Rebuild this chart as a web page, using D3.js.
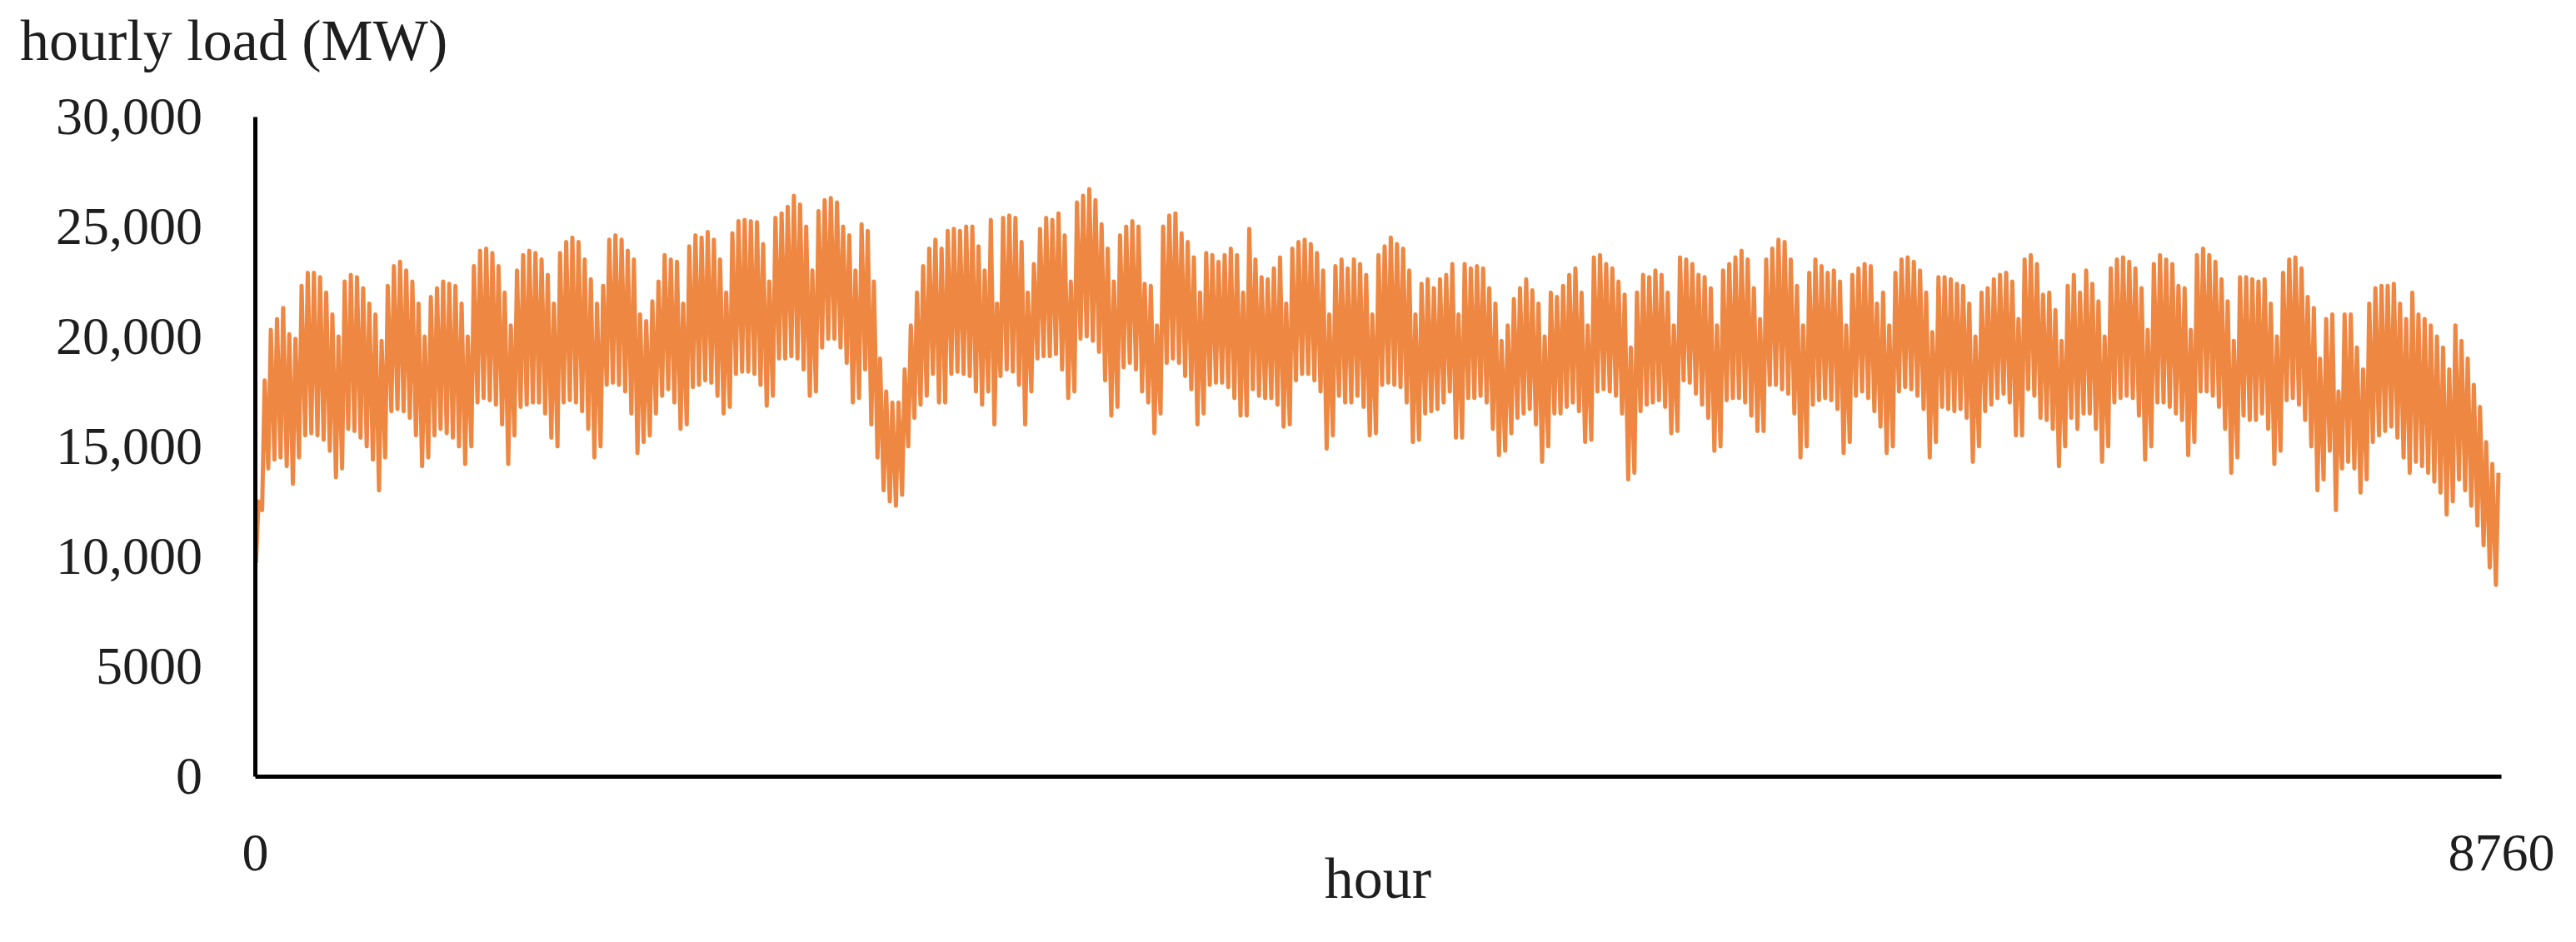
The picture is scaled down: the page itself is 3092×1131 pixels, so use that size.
<!DOCTYPE html>
<html><head><meta charset="utf-8">
<script src="https://cdn.jsdelivr.net/npm/d3@7"></script>
<style>html,body{margin:0;padding:0;background:#fff;} svg{display:block;}</style>
</head><body>
<svg id="chart" width="3092" height="1131"></svg>
<script>
// ---- data (daily trough and daily peak, MW) ----
const yTickValues = [0, 5000, 10000, 15000, 20000, 25000, 30000];
const xTickValues = [0, 8760];
const yTitle = "hourly load (MW)";
const xTitle = "hour";

const dayLow = [
  9700,12100,14000,14400,14500,14100,13300,
  14500,15500,15600,15500,15300,14800,13600,
  14000,15800,15700,15400,15000,14400,13000,
  14500,16600,16700,16600,16300,15500,14100,
  14500,15500,15800,15600,15400,15000,14200,
  15000,17000,17200,17100,16900,16000,14200,
  15500,16800,16900,17000,17000,16500,15400,
  15000,17000,17100,17000,16600,15800,14500,
  15000,17800,17900,17800,17500,16500,14700,
  15200,15500,16500,17300,17600,17000,15800,
  16000,17700,17800,18000,17900,17300,16500,
  16800,18300,18400,18400,18300,17800,16850,
  17300,19000,19000,19100,19000,18500,17300,
  17500,19500,19900,19900,19500,18800,17000,
  17200,18500,16000,14500,13000,12500,12300,
  12800,15000,16300,16900,17300,18300,17000,
  17000,18300,18400,18300,18200,17500,16900,
  17500,16000,18200,18500,18400,17800,16000,
  17500,19000,19100,19100,19200,18500,17200,
  17500,19900,20000,19800,19300,18000,16400,
  16800,18600,18800,18500,17500,17000,15600,
  16500,18800,19000,18800,18200,17600,16000,
  16500,17800,17900,17900,17700,17200,16400,
  16400,17600,17300,17200,17200,16900,15900,
  16000,18000,18300,18300,18000,17500,14900,
  15500,17300,17000,17000,17300,16800,15500,
  15600,17800,17900,17800,17700,17000,15200,
  15300,16500,16600,16700,17000,17500,15400,
  15400,17200,17200,17300,17000,15800,14600,
  14800,15600,16300,16500,16700,16000,14300,
  15000,16500,16500,16800,17000,16600,15200,
  15300,17500,17600,17500,17300,16500,13500,
  13800,16600,16900,17000,17100,16800,15600,
  15700,18000,17900,17400,16900,16300,14800,
  15000,17100,17200,17200,17000,16400,15700,
  15700,17800,17800,17600,17400,16500,14500,
  15000,16900,17100,17200,17100,16700,14700,
  15200,17300,17500,17200,16600,15900,14700,
  15000,17500,17700,17600,17300,16700,14500,
  15200,16800,16700,16600,16700,16300,14300,
  15000,16600,16900,17200,17400,17000,15500,
  15500,17600,17300,16300,16200,15800,14100,
  15000,16300,15800,16500,16500,15800,14300,
  15000,17000,17200,17300,17200,16400,14400,
  15000,17000,17000,16800,16500,16200,14600,
  15200,17500,17500,17300,16800,15800,13800,
  14500,16400,16200,16200,16500,15800,14200,
  14800,17100,17200,16900,16200,15000,13000,
  13500,14800,12100,14000,14300,14000,12900,
  13500,15200,15500,15700,15900,15400,14500,
  13800,14300,14100,13800,13400,12900,11900,
  12500,13500,13000,12300,11400,10500,9500,
  8700
];

const dayPeak = [
  12500,18000,20300,20800,21300,20100,19900,
  22300,22900,22900,22700,22000,21000,20000,
  22500,22800,22700,22200,21500,21000,19800,
  22300,23200,23400,23000,22500,21500,20000,
  21800,22200,22500,22400,22300,21500,20000,
  23200,23900,24000,23800,23200,22000,20500,
  23000,23700,23900,23800,23500,22800,21500,
  23800,24300,24500,24300,23500,22600,21500,
  22300,24400,24600,24400,23900,23500,21000,
  20700,21600,22500,23700,23500,23400,21500,
  24100,24600,24500,24750,24400,23500,22000,
  24700,25250,25300,25250,25200,24200,22500,
  25400,25600,25900,26400,26000,25000,23000,
  25700,26200,26300,26100,25000,24600,23000,
  25100,24800,22500,19000,17500,17000,17000,
  18500,20500,22000,23200,24000,24400,24000,
  24800,24900,24800,25000,25000,24100,23000,
  25300,21500,25400,25500,25400,24300,22000,
  23300,24900,25400,25300,25600,24600,22500,
  26100,26400,26700,26200,25100,24000,22500,
  24600,25000,25250,25000,22400,22300,20500,
  25000,25500,25600,24700,24300,23600,22000,
  23800,23700,23400,23700,24000,23700,22000,
  24900,23500,22700,22600,23100,23600,21500,
  24000,24300,24400,24200,23800,23000,21000,
  23200,23500,23100,23500,23300,22800,21000,
  23700,24100,24500,24200,24000,23000,21000,
  22400,22600,22200,22600,22800,23300,21000,
  23300,23100,23200,23100,22200,21500,19800,
  20500,21700,22200,22600,22100,21500,20000,
  22000,21800,22300,22800,23100,22000,20500,
  23600,23700,23300,23100,22500,21900,19500,
  22000,22800,22700,23000,22800,22000,20500,
  23600,23500,23300,22800,22700,22200,20500,
  23000,23300,23600,23900,23500,22200,20800,
  23500,24000,24400,24300,23500,22300,20500,
  22900,23500,23200,22900,23000,22500,20500,
  22800,23100,23300,23200,21500,22000,20500,
  22900,23500,23600,23400,23000,22000,20200,
  22700,22700,22600,22400,22300,21500,20000,
  22000,22200,22600,22800,22900,22500,20800,
  23500,23700,23300,21900,22000,21200,19800,
  22300,22800,22000,23000,22400,21600,20000,
  23100,23500,23600,23400,23100,22200,20300,
  23300,23700,23500,23300,22300,22200,20300,
  23700,24000,23700,23400,22600,21600,19800,
  22700,22700,22600,22500,22600,21500,20000,
  22900,23500,23600,23100,21800,21300,19000,
  20800,21000,17500,21000,21000,19500,18500,
  21500,22200,22300,22300,22400,21500,20800,
  22000,21000,20800,20500,20000,19500,18500,
  20500,19800,19000,17800,16800,15200,14200,
  13800
];
// hour of the day at which each day's trough and peak are placed
const troughHour = 4, peakHour = 14;

// ---- drawing ----
const svg = d3.select("#chart");
const FONT = "'Liberation Serif','Times New Roman',serif";
const TXT = "#1e1e1e";

const x = d3.scaleLinear().domain([0, 8760]).range([306, 3002]);
const y = d3.scaleLinear().domain([0, 30000]).range([932, 140]);

const points = [];
dayLow.forEach((v, i) => {
  points.push([i * 24 + troughHour, v]);
  points.push([i * 24 + peakHour, dayPeak[i]]);
});

svg.append("path")
  .datum(points)
  .attr("d", d3.line().x(d => x(d[0])).y(d => y(d[1])))
  .attr("fill", "none")
  .attr("stroke", "#ED7D31")
  .attr("stroke-opacity", 0.92)
  .attr("stroke-width", 5)
  .attr("stroke-linejoin", "round");

const fmt = d => d >= 10000 ? d3.format(",")(d) : String(d);

const gy = svg.append("g")
  .attr("transform", `translate(${x(0)},0)`)
  .call(d3.axisLeft(y).tickValues(yTickValues).tickFormat(fmt).tickSize(0).tickSizeOuter(0).tickPadding(63));
gy.attr("font-family", FONT).attr("font-size", 64).attr("color", TXT);
gy.select(".domain").attr("stroke", "#000").attr("stroke-width", 5);

const gx = svg.append("g")
  .attr("transform", `translate(0,${y(0)})`)
  .call(d3.axisBottom(x).tickValues(xTickValues).tickFormat(d3.format("d")).tickSize(0).tickSizeOuter(0).tickPadding(68));
gx.attr("font-family", FONT).attr("font-size", 64).attr("color", TXT);
gx.select(".domain").attr("stroke", "#000").attr("stroke-width", 5);

svg.append("text")
  .attr("x", 24).attr("y", 72)
  .attr("font-family", FONT).attr("font-size", 70).attr("fill", TXT)
  .text(yTitle);

svg.append("text")
  .attr("x", 1654).attr("y", 1078)
  .attr("text-anchor", "middle")
  .attr("font-family", FONT).attr("font-size", 70).attr("fill", TXT)
  .text(xTitle);
</script>
</body></html>
